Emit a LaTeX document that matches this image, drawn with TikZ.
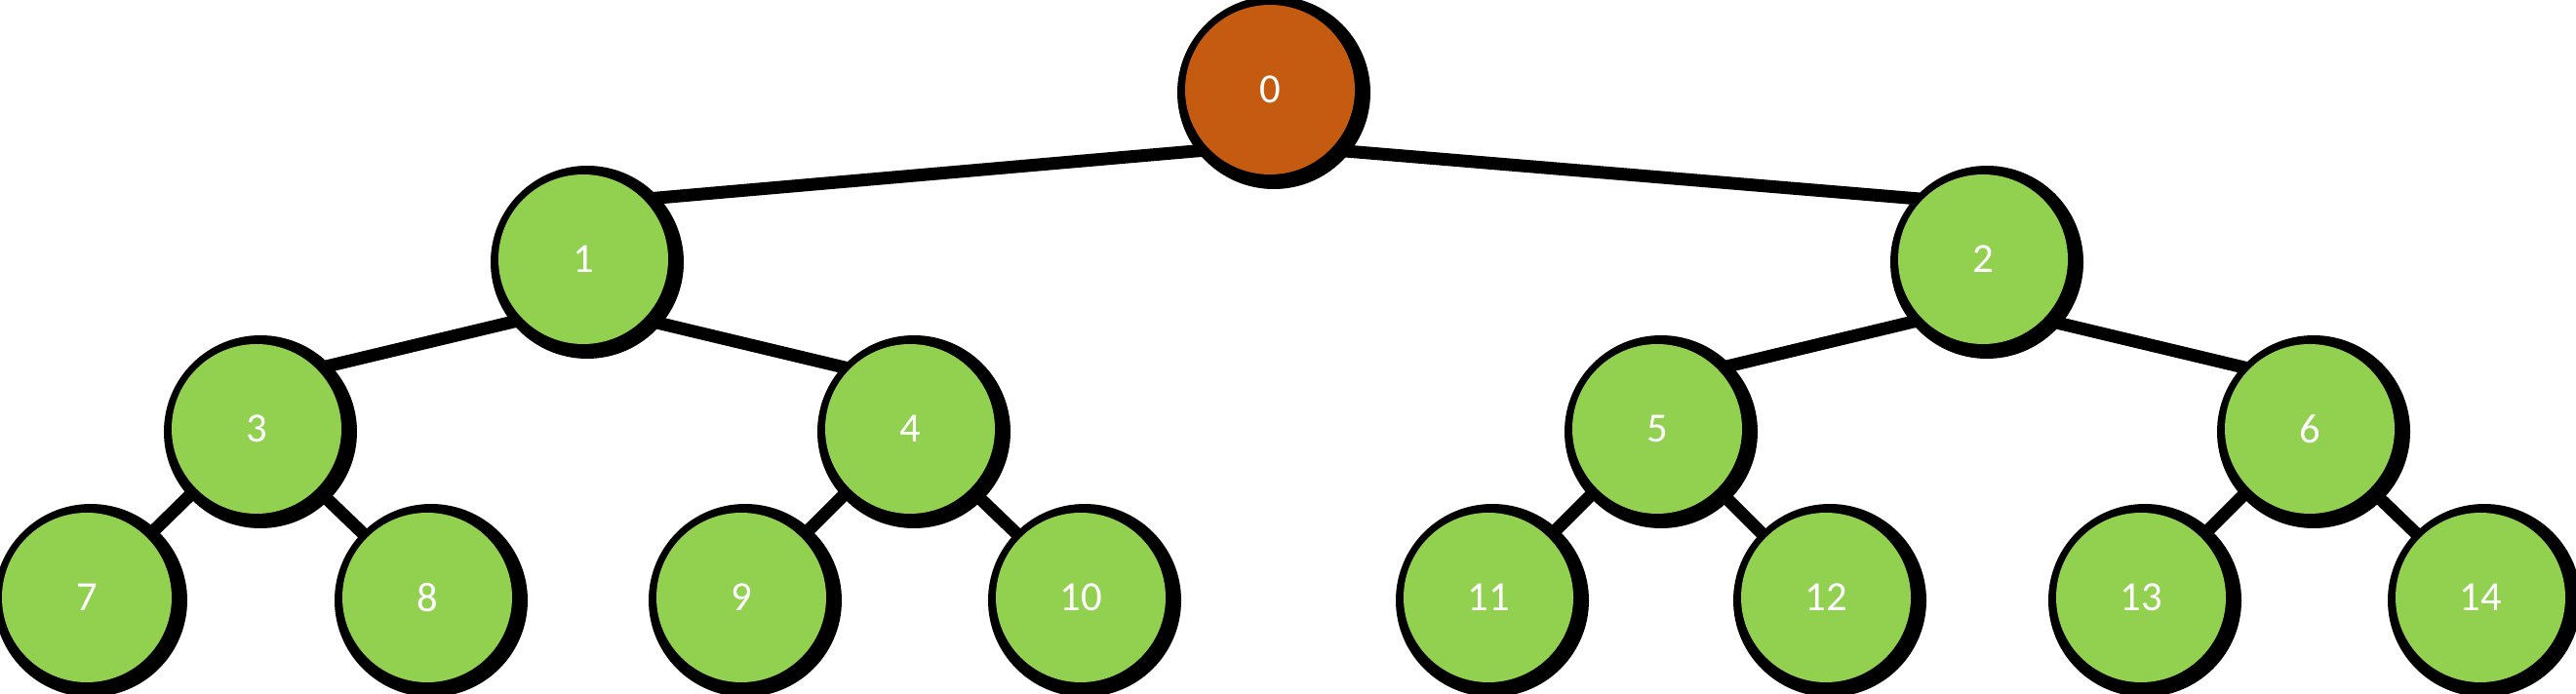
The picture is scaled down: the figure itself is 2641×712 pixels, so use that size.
\documentclass[tikz,border=0pt]{standalone}
\usepackage{fontspec}
\setmainfont{Carlito}
\usetikzlibrary{calc,backgrounds}
\definecolor{leafgreen}{HTML}{92D050}
\definecolor{rootorange}{HTML}{C55A11}
\tikzset{
  treenode/.style={circle, fill=leafgreen, draw=none, minimum size=130.5pt, inner sep=0pt,
    text=white, font=\fontsize{32}{36}\selectfont},
  rootnode/.style={treenode, fill=rootorange},
  edgeline/.style={line width=9.75pt, draw=black},
  shadowdisk/.style={fill=black}
}
\begin{document}
\begin{tikzpicture}[x=0.75pt,y=-0.75pt]
\useasboundingbox (0,0) rectangle (2641,712);
\node[rootnode] (n0) at (1302,92) {0};
\node[treenode] (n1) at (598,266) {1};
\node[treenode] (n2) at (2033,266) {2};
\node[treenode] (n3) at (263,440) {3};
\node[treenode] (n4) at (933,440) {4};
\node[treenode] (n5) at (1699,440) {5};
\node[treenode] (n6) at (2368,440) {6};
\node[treenode] (n7) at (89,613) {7};
\node[treenode] (n8) at (438,613) {8};
\node[treenode] (n9) at (760,613) {9};
\node[treenode] (n10) at (1108,613) {10};
\node[treenode] (n11) at (1526,613) {11};
\node[treenode] (n12) at (1872,613) {12};
\node[treenode] (n13) at (2195,613) {13};
\node[treenode] (n14) at (2543,613) {14};
\begin{scope}[on background layer]
  \draw[edgeline] (n0.south west) -- (n1.north east);
  \draw[edgeline] (n0.south east) -- (n2.north west);
  \draw[edgeline] (n1.south west) -- (n3.north east);
  \draw[edgeline] (n1.south east) -- (n4.north west);
  \draw[edgeline] (n2.south west) -- (n5.north east);
  \draw[edgeline] (n2.south east) -- (n6.north west);
  \draw[edgeline] (n3.south west) -- (n7.north east);
  \draw[edgeline] (n3.south east) -- (n8.north west);
  \draw[edgeline] (n4.south west) -- (n9.north east);
  \draw[edgeline] (n4.south east) -- (n10.north west);
  \draw[edgeline] (n5.south west) -- (n11.north east);
  \draw[edgeline] (n5.south east) -- (n12.north west);
  \draw[edgeline] (n6.south west) -- (n13.north east);
  \draw[edgeline] (n6.south east) -- (n14.north west);
  \foreach \n in {n0,n1,n2,n3,n4,n5,n6,n7,n8,n9,n10,n11,n12,n13,n14}{
    \fill[shadowdisk] ($(\n.center)+(4,3)$) circle (99);
  }
\end{scope}
\end{tikzpicture}
\end{document}
